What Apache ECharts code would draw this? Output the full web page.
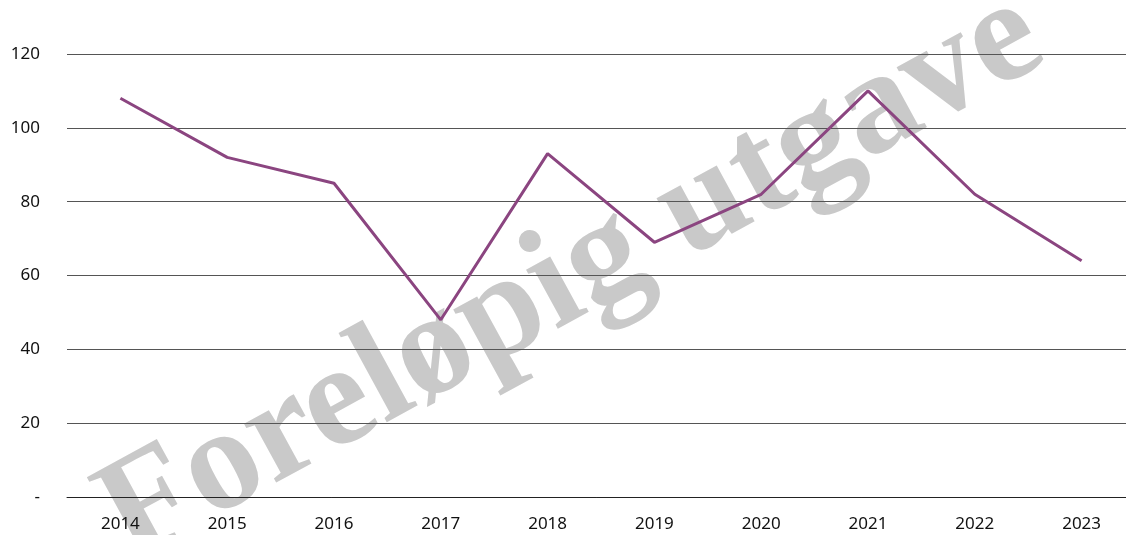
<!DOCTYPE html>
<html><head><meta charset="utf-8">
<script src="https://cdn.jsdelivr.net/npm/echarts@6/dist/echarts.min.js"></script>
<style>html,body{margin:0;padding:0;background:#fff}#c{width:1126px;height:535px}</style>
</head><body><div id="c"></div>
<script>
const categories = ['2014','2015','2016','2017','2018','2019','2020','2021','2022','2023'];
const values = [108, 92, 85, 48, 93, 69, 82, 110, 82, 64];
const yTicks = [0, 20, 40, 60, 80, 100, 120];
const watermark = 'Foreløpig utgave';

const chart = echarts.init(document.getElementById('c'), null, {renderer: 'canvas'});
chart.setOption({
  animation: false,
  backgroundColor: '#ffffff',
  grid: {left: 67, width: 1068, top: 54, bottom: 38, containLabel: false, outerBoundsMode: 'none'},
  graphic: [{
    type: 'text', x: 572, y: 278, rotation: 0.5, z: -10, silent: true,
    style: {text: watermark, fill: '#c9c9c9', font: 'bold 146px "Liberation Serif", "DejaVu Serif", serif',
      textAlign: 'center', textVerticalAlign: 'middle'}
  }],
  xAxis: {
    type: 'category', data: categories, boundaryGap: true,
    axisLine: {show: true, lineStyle: {color: '#222', width: 1}},
    axisTick: {show: false},
    axisLabel: {color: '#111', fontSize: 17, fontFamily: '"Noto Sans", sans-serif', margin: 19}
  },
  yAxis: {
    type: 'value', min: yTicks[0], max: yTicks[yTicks.length-1], interval: 20,
    axisLine: {show: false}, axisTick: {show: false},
    splitLine: {lineStyle: {color: '#555', width: 1}},
    axisLabel: {color: '#111', fontSize: 17, fontFamily: '"Noto Sans", sans-serif', margin: 27,
      formatter: v => v === 0 ? '-' : String(v)}
  },
  series: [{
    type: 'line', data: values, symbol: 'none', z: 5,
    lineStyle: {color: '#8b4580', width: 3}
  }]
});
</script></body></html>
